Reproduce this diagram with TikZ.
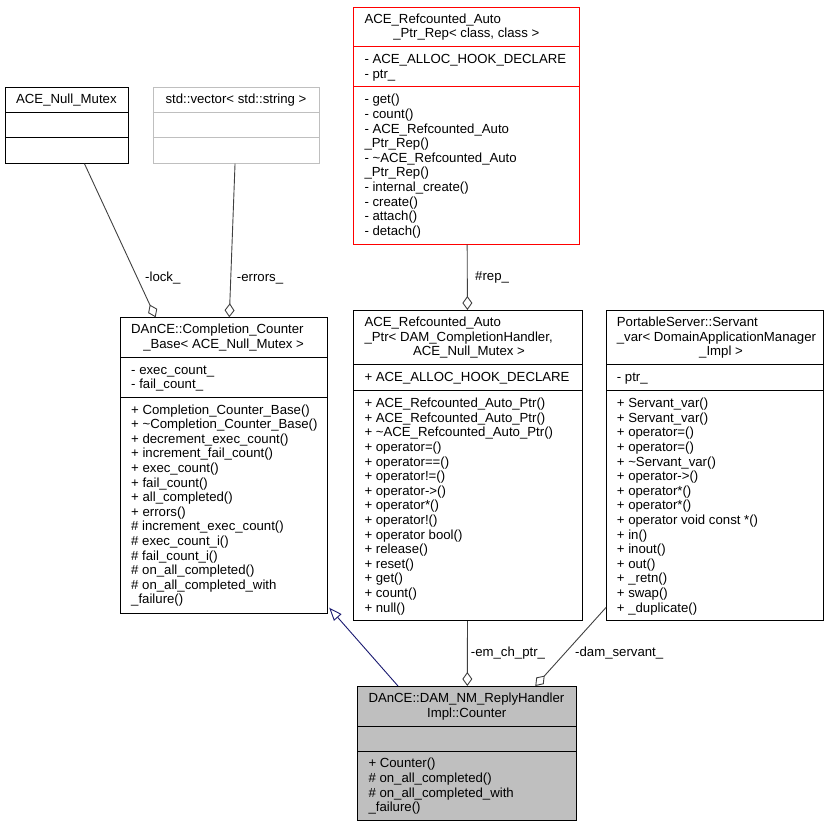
\documentclass[tikz,border=0pt]{standalone}
\usepackage{fontspec}
\setmainfont{Liberation Sans}
\usetikzlibrary{arrows.meta}
\definecolor{edgegray}{HTML}{404040}
\definecolor{inheritblue}{HTML}{191970}
\definecolor{mainfill}{HTML}{BFBFBF}
\newcommand{\classfont}{\fontsize{13.2}{14.6}\selectfont}

\begin{document}
\begin{tikzpicture}[x=1pt, y=-1pt,
  classbox/.style={draw=black, line width=0.9pt, fill=white, inner sep=0pt, anchor=north west},
  classline/.style={draw=black, line width=0.9pt},
  classtext/.style={font=\classfont, inner sep=0pt, align=left, yshift=-1pt},
  aggr/.style={draw=edgegray, line width=0.9pt, -{Diamond[open, length=14pt, width=10pt]}},
  inherit/.style={draw=inheritblue, line width=0.9pt, -{Triangle[open, length=13pt, width=10pt]}}]
\useasboundingbox (0,0) rectangle (829,827);
% Boxes
\node[classbox, minimum width=122.7pt, minimum height=75.5pt] (nullmutex) at (5,87.3) {};
\node[classbox, draw=mainfill, minimum width=166.6pt, minimum height=75.5pt] (strvector) at (152.7,87.3) {};
\node[classbox, draw=red, minimum width=226pt, minimum height=237.1pt] (refrep) at (353.3,6.7) {};
\node[classbox, minimum width=206.7pt, minimum height=295.5pt] (counterbase) at (120,317.3) {};
\node[classbox, minimum width=228.4pt, minimum height=310.1pt] (refptr) at (353.3,310) {};
\node[classbox, minimum width=216.7pt, minimum height=310.1pt] (servantvar) at (606,310) {};
\node[classbox, fill=mainfill, minimum width=218.7pt, minimum height=134.4pt] (counter) at (357.3,686) {};
% Lines
\draw[classline] (nullmutex.west |- 0,112.8) -- (nullmutex.east |- 0,112.8);
\draw[classline] (nullmutex.west |- 0,137.8) -- (nullmutex.east |- 0,137.8);
\draw[classline, draw=mainfill] (strvector.west |- 0,112.8) -- (strvector.east |- 0,112.8);
\draw[classline, draw=mainfill] (strvector.west |- 0,137.8) -- (strvector.east |- 0,137.8);
\draw[classline, draw=red] (refrep.west |- 0,46.8) -- (refrep.east |- 0,46.8);
\draw[classline, draw=red] (refrep.west |- 0,86.9) -- (refrep.east |- 0,86.9);
\draw[classline] (counterbase.west |- 0,357.4) -- (counterbase.east |- 0,357.4);
\draw[classline] (counterbase.west |- 0,397.5) -- (counterbase.east |- 0,397.5);
\draw[classline] (refptr.west |- 0,364.7) -- (refptr.east |- 0,364.7);
\draw[classline] (refptr.west |- 0,390.2) -- (refptr.east |- 0,390.2);
\draw[classline] (servantvar.west |- 0,364.7) -- (servantvar.east |- 0,364.7);
\draw[classline] (servantvar.west |- 0,390.2) -- (servantvar.east |- 0,390.2);
\draw[classline] (counter.west |- 0,726.1) -- (counter.east |- 0,726.1);
\draw[classline] (counter.west |- 0,751.1) -- (counter.east |- 0,751.1);
% Nodes
\node[classtext, anchor=base] (nullmutextitle) at (66.4,102.8) {ACE\_Null\_Mutex};
\node[classtext, anchor=base] (strvectortitle) at (236,102.8) {std::vector< std::string >};

\node[classtext, anchor=base west] (refreptitlea) at (364.3,22.2) {ACE\_Refcounted\_Auto};
\node[classtext, anchor=base] (refreptitleb) at (466.3,36.8) {\_Ptr\_Rep< class, class >};
\node[classtext, anchor=north west] (refrepattr) at (364.3,52.1) {\strut- ACE\_ALLOC\_HOOK\_DECLARE\\- ptr\_};
\node[classtext, anchor=north west] (refrepops) at (364.3,92.5) {\strut- get()\\- count()\\- ACE\_Refcounted\_Auto\\\_Ptr\_Rep()\\- \textasciitilde ACE\_Refcounted\_Auto\\\_Ptr\_Rep()\\- internal\_create()\\- create()\\- attach()\\- detach()};

\node[classtext, anchor=base west] (basetitlea) at (131,332.8) {DAnCE::Completion\_Counter};
\node[classtext, anchor=base] (basetitleb) at (223.6,347.4) {\_Base< ACE\_Null\_Mutex >};
\node[classtext, anchor=north west] (baseattr) at (131,362.7) {\strut- exec\_count\_\\- fail\_count\_};
\node[classtext, anchor=north west] (baseops) at (131,402.6) {\strut+ Completion\_Counter\_Base()\\+ \textasciitilde Completion\_Counter\_Base()\\+ decrement\_exec\_count()\\+ increment\_fail\_count()\\+ exec\_count()\\+ fail\_count()\\+ all\_completed()\\+ errors()\\\# increment\_exec\_count()\\\# exec\_count\_i()\\\# fail\_count\_i()\\\# on\_all\_completed()\\\# on\_all\_completed\_with\\\_failure()};

\node[classtext, anchor=base west] (refptrtitlea) at (364.3,325.5) {ACE\_Refcounted\_Auto};
\node[classtext, anchor=base west] (refptrtitleb) at (364.3,340.1) {\_Ptr< DAM\_CompletionHandler,};
\node[classtext, anchor=base] (refptrtitlec) at (469,354.7) {ACE\_Null\_Mutex >};
\node[classtext, anchor=north west] (refptrattr) at (364.3,370) {\strut+ ACE\_ALLOC\_HOOK\_DECLARE};
\node[classtext, anchor=north west] (refptrops) at (364.3,396.3) {\strut+ ACE\_Refcounted\_Auto\_Ptr()\\+ ACE\_Refcounted\_Auto\_Ptr()\\+ \textasciitilde ACE\_Refcounted\_Auto\_Ptr()\\+ operator=()\\+ operator==()\\+ operator!=()\\+ operator->()\\+ operator*()\\+ operator!()\\+ operator bool()\\+ release()\\+ reset()\\+ get()\\+ count()\\+ null()};

\node[classtext, anchor=base west] (servanttitlea) at (616.7,325.5) {PortableServer::Servant};
\node[classtext, anchor=base west] (servanttitleb) at (616.7,340.1) {\_var< DomainApplicationManager};
\node[classtext, anchor=base] (servanttitlec) at (721,354.7) {\_Impl >};
\node[classtext, anchor=north west] (servantattr) at (616.7,370) {\strut- ptr\_};
\node[classtext, anchor=north west] (servantops) at (616.7,396.3) {\strut+ Servant\_var()\\+ Servant\_var()\\+ operator=()\\+ operator=()\\+ \textasciitilde Servant\_var()\\+ operator->()\\+ operator*()\\+ operator*()\\+ operator void const *()\\+ in()\\+ inout()\\+ out()\\+ \_retn()\\+ swap()\\+ \_duplicate()};

\node[classtext, anchor=base west] (countertitlea) at (368.3,701.5) {DAnCE::DAM\_NM\_ReplyHandler};
\node[classtext, anchor=base] (countertitleb) at (466.7,716.1) {Impl::Counter};
\node[classtext, anchor=north west] (counterops) at (368.3,756.4) {\strut+ Counter()\\\# on\_all\_completed()\\\# on\_all\_completed\_with\\\_failure()};
% Connectors
\coordinate (inheritend) at ([xshift=1.6pt, yshift=6pt]counterbase.south east);
\draw[aggr] (nullmutex) -- (counterbase);
\draw[aggr] (strvector) -- (counterbase);
\draw[aggr] (refrep) -- (refptr);
\draw[aggr] (refptr) -- (counter);
\draw[aggr] ([yshift=13.5pt]servantvar.south west) -- ([xshift=178pt]counter.north west);
\draw[inherit] ([xshift=40.7pt]counter.north west) -- (inheritend);
% Labels
\node[classtext, anchor=base west] (locklabel) at (145,280) {-lock\_};
\node[classtext, anchor=base west] (errorslabel) at (236.7,280) {-errors\_};
\node[classtext, anchor=base west] (replabel) at (475,279.5) {\#rep\_};
\node[classtext, anchor=base west] (emchlabel) at (470.7,655) {-em\_ch\_ptr\_};
\node[classtext, anchor=base west] (damlabel) at (575,655) {-dam\_servant\_};
\end{tikzpicture}
\end{document}
